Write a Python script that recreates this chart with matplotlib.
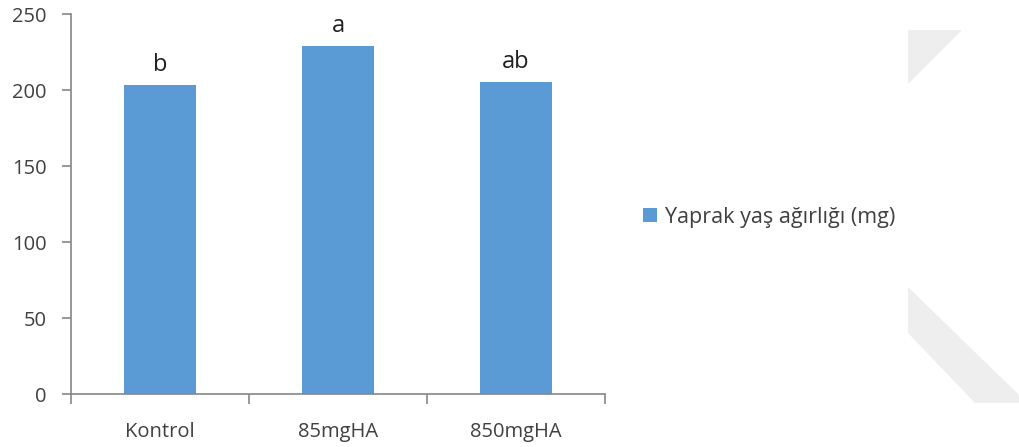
import numpy as np
import matplotlib.pyplot as plt
from matplotlib.patches import Polygon

plt.rcParams['font.family'] = ['Open Sans', 'DejaVu Sans']

# leaf fresh weight per treatment
groups = ['Kontrol', '85mgHA', '850mgHA']
weights = [203, 229, 205]
letters = ['b', 'a', 'ab']
series_name = 'Yaprak yaş ağırlığı (mg)'

bar_color = '#5b9bd5'
axis_color = '#868686'
text_color = '#404040'

W, H = 1019, 447
fig = plt.figure(figsize=(W / 100, H / 100), dpi=100)
ax = fig.add_axes([71 / W, (H - 394) / H, (605 - 71) / W, (394 - 14) / H])

x = np.arange(len(groups))
bars = ax.bar(x, weights, width=0.4, color=bar_color, label=series_name, zorder=2)

for rect, lab in zip(bars, letters):
    ax.annotate(lab, (rect.get_x() + rect.get_width() / 2, rect.get_height()),
                xytext=(0, 6), textcoords='offset points', ha='center', va='bottom',
                fontsize=17, color='#202020')

ax.set_xlim(-0.5, len(groups) - 0.5)
ax.set_ylim(0, 250)
ax.set_yticks(np.arange(0, 251, 50))
ax.set_xticks(x)
ax.set_xticklabels(groups)
ax.set_xticks(np.arange(-0.5, len(groups), 1), minor=True)

for side in ['top', 'right']:
    ax.spines[side].set_visible(False)
for side in ['left', 'bottom']:
    ax.spines[side].set_color(axis_color)
    ax.spines[side].set_linewidth(1.2)

ax.tick_params(axis='y', length=6.5, width=1.2, color=axis_color, labelcolor=text_color,
               labelsize=14.5, pad=11)
ax.tick_params(axis='x', which='major', length=0, labelcolor=text_color, labelsize=14.5, pad=20)
ax.tick_params(axis='x', which='minor', length=7, width=1.2, color=axis_color)

leg = fig.legend(loc='center left', bbox_to_anchor=(624 / W, 1 - 217 / H), frameon=False,
                 fontsize=15.5, handlelength=0.65, handleheight=0.65, handletextpad=0.35,
                 labelcolor=text_color)

# faint grey shapes along the right edge
grey = '#eeeeee'
top_shape = [(908, 30), (962, 30), (908, 84)]
low_shape = [(908, 287), (1019, 395), (1019, 403), (975, 403), (908, 333)]
for pts in (top_shape, low_shape):
    fig.patches.append(Polygon([(px / W, 1 - py / H) for px, py in pts], closed=True,
                               transform=fig.transFigure, facecolor=grey, edgecolor='none',
                               zorder=0))

fig.savefig('out.png', dpi=100)
